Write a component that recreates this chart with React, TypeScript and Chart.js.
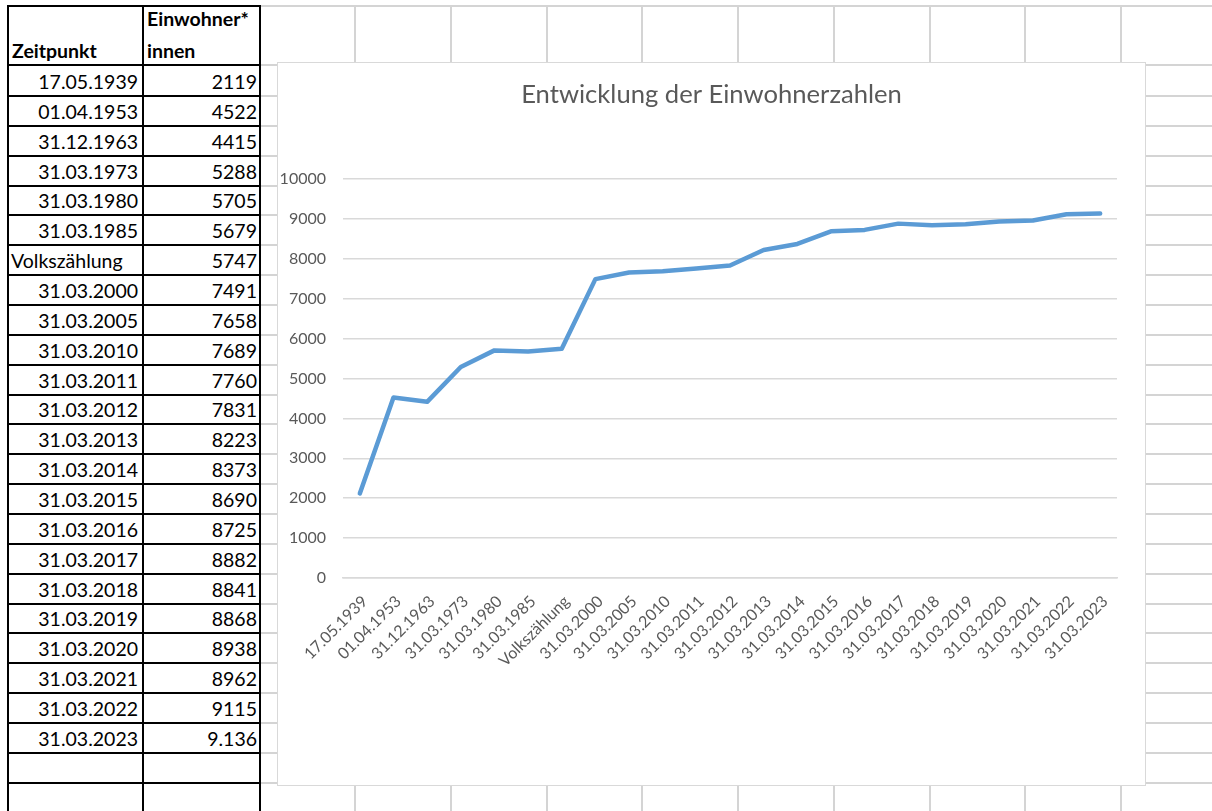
import React, { useEffect, useRef } from 'react';
import { Chart, registerables } from 'chart.js';

Chart.register(...registerables);

// ---- data ----
const zeitpunkte = [
  '17.05.1939', '01.04.1953', '31.12.1963', '31.03.1973', '31.03.1980', '31.03.1985',
  'Volkszählung', '31.03.2000', '31.03.2005', '31.03.2010', '31.03.2011', '31.03.2012',
  '31.03.2013', '31.03.2014', '31.03.2015', '31.03.2016', '31.03.2017', '31.03.2018',
  '31.03.2019', '31.03.2020', '31.03.2021', '31.03.2022', '31.03.2023',
];
const einwohnerText = [
  '2119', '4522', '4415', '5288', '5705', '5679', '5747', '7491', '7658', '7689', '7760', '7831',
  '8223', '8373', '8690', '8725', '8882', '8841', '8868', '8938', '8962', '9115', '9.136',
];
const einwohner = [
  2119, 4522, 4415, 5288, 5705, 5679, 5747, 7491, 7658, 7689, 7760, 7831,
  8223, 8373, 8690, 8725, 8882, 8841, 8868, 8938, 8962, 9115, 9136,
];
const yMin = 0;
const yMax = 10000;
const yStep = 1000;
const chartTitle = 'Entwicklung der Einwohnerzahlen';
const headerZeit = 'Zeitpunkt';
const headerEinw = ['Einwohner*', 'innen'];

// ---- styling ----
const FONT = 'Lato, sans-serif';
const TEXT = '#595959';
const GRID = '#d4d4d4';

const rowB = (i: number) => 96 + i * 29.86;
const colXs = Array.from({ length: 9 }, (_, k) => 355 + k * 95.75);

export default function App() {
  const ref = useRef<HTMLCanvasElement>(null);

  useEffect(() => {
    const chart = new Chart(ref.current!, {
      type: 'line',
      data: {
        labels: zeitpunkte,
        datasets: [
          {
            data: einwohner,
            yAxisID: 'y',
            borderColor: '#5b9bd5',
            backgroundColor: '#5b9bd5',
            borderWidth: 4.5,
            pointRadius: 0,
            pointHoverRadius: 0,
            tension: 0,
            fill: false,
            borderCapStyle: 'round',
            borderJoinStyle: 'round',
          },
        ],
      },
      options: {
        animation: false,
        responsive: false,
        maintainAspectRatio: false,
        layout: { padding: { left: 0, right: 0, top: 0, bottom: 0 } },
        plugins: {
          legend: { display: false },
          tooltip: { enabled: false },
          title: {
            display: true,
            text: chartTitle,
            color: TEXT,
            font: { family: FONT, size: 25.6, weight: 'normal', lineHeight: 1.2 },
            padding: { top: 16.6, bottom: 68.7 },
          },
        },
        scales: {
          x: {
            type: 'category',
            offset: true,
            grid: { display: false, drawTicks: false },
            border: { display: true, color: '#d9d9d9', width: 1.5 },
            ticks: {
              autoSkip: false,
              minRotation: 45,
              maxRotation: 45,
              color: TEXT,
              font: { family: FONT, size: 16 },
              padding: 14,
              labelOffset: 5,
            },
            afterFit: (s: any) => {
              s.height = 207;
              s.paddingLeft = 0;
              s.paddingRight = 0;
            },
          },
          y: {
            position: 'left',
            min: yMin,
            max: yMax,
            ticks: {
              stepSize: yStep,
              color: TEXT,
              font: { family: FONT, size: 16 },
              padding: 17,
              callback: (v: any) => String(v),
            },
            grid: { color: '#d9d9d9', lineWidth: 1.5, drawTicks: false },
            border: { display: false },
            afterFit: (s: any) => {
              s.width = 65;
            },
          },
          spacer: {
            type: 'linear',
            axis: 'y',
            position: 'right',
            display: true,
            min: yMin,
            max: yMax,
            ticks: { display: false },
            grid: { display: false, drawTicks: false },
            border: { display: false },
            afterFit: (s: any) => {
              s.width = 28;
            },
          },
        },
      },
    } as any);
    return () => chart.destroy();
  }, []);

  const lines: React.ReactNode[] = [];
  const hYs = [6, 65, ...Array.from({ length: 24 }, (_, i) => rowB(i))];
  // gray spreadsheet grid
  hYs.forEach((y, i) =>
    lines.push(
      <div key={'gh' + i} style={{ position: 'absolute', left: 261, width: 951, top: y - 1, height: 2, background: GRID }} />
    )
  );
  colXs.forEach((x, i) =>
    lines.push(
      <div key={'gv' + i} style={{ position: 'absolute', left: x - 1, width: 2, top: 5, height: 806, background: GRID }} />
    )
  );
  // black table borders
  hYs.forEach((y, i) =>
    lines.push(
      <div key={'th' + i} style={{ position: 'absolute', left: 7, width: 254, top: y - 1, height: 2, background: '#000' }} />
    )
  );
  [8, 143, 260].forEach((x, i) =>
    lines.push(
      <div key={'tv' + i} style={{ position: 'absolute', left: x - 1, width: 2, top: 5, height: 806, background: '#000' }} />
    )
  );

  const cellBase: React.CSSProperties = {
    position: 'absolute',
    fontFamily: FONT,
    fontSize: 19.5,
    lineHeight: '20px',
    color: '#000',
    whiteSpace: 'nowrap',
  };

  const cells: React.ReactNode[] = [];
  zeitpunkte.forEach((z, i) => {
    const bottom = rowB(i);
    const isText = isNaN(Number(z.replace(/\./g, '')));
    cells.push(
      <div
        key={'z' + i}
        style={{
          ...cellBase,
          left: isText ? 11 : 9,
          width: isText ? 130 : 129,
          top: bottom - 24,
          height: 22,
          textAlign: isText ? 'left' : 'right',
        }}
      >
        {z}
      </div>
    );
    cells.push(
      <div
        key={'e' + i}
        style={{ ...cellBase, left: 144, width: 113, top: bottom - 24, height: 22, textAlign: 'right' }}
      >
        {einwohnerText[i]}
      </div>
    );
  });

  return (
    <div style={{ position: 'absolute', left: 0, top: 0, width: 1212, height: 811, overflow: 'hidden', background: '#fff' }}>
      {lines}
      <div style={{ ...cellBase, fontWeight: 700, left: 12, top: 41, height: 22 }}>{headerZeit}</div>
      <div style={{ ...cellBase, fontWeight: 700, left: 147, top: 9, height: 22 }}>{headerEinw[0]}</div>
      <div style={{ ...cellBase, fontWeight: 700, left: 147, top: 41, height: 22 }}>{headerEinw[1]}</div>
      {cells}
      <div
        style={{
          position: 'absolute',
          left: 277,
          top: 62,
          width: 867,
          height: 722,
          border: '1px solid #d9d9d9',
          background: '#fff',
        }}
      >
        <canvas ref={ref} width={867} height={722} style={{ display: 'block', width: 867, height: 722 }} />
      </div>
    </div>
  );
}
